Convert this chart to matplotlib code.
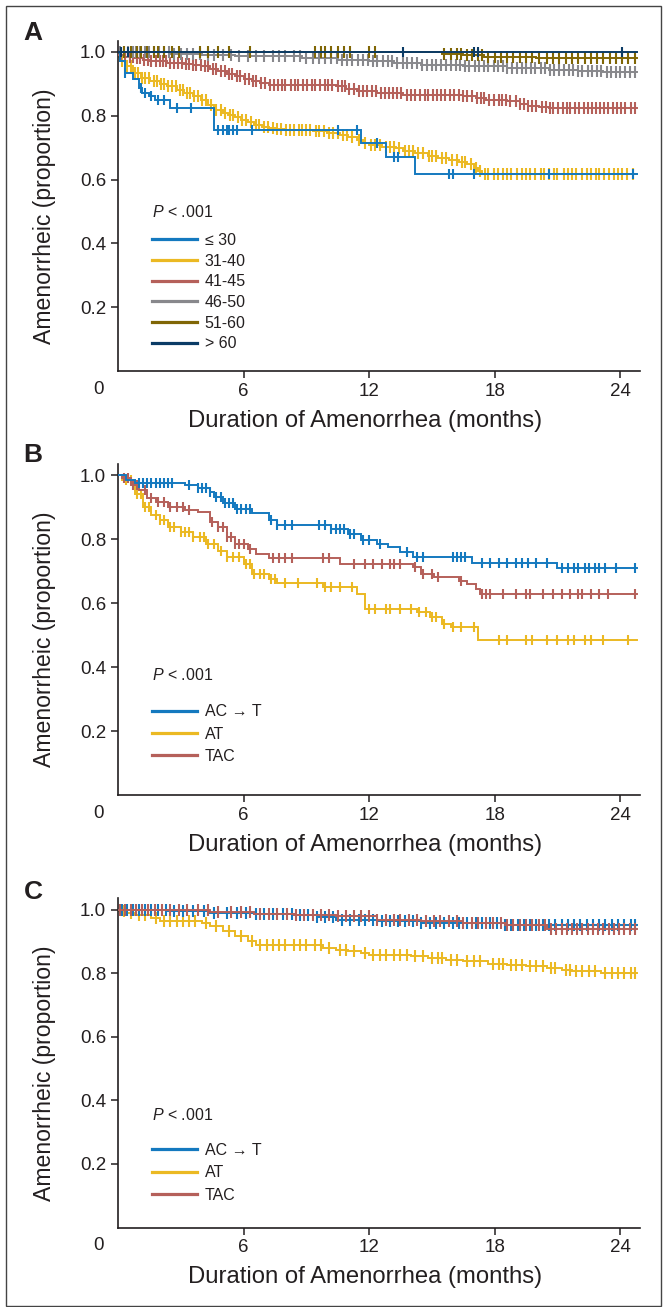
import numpy as np
import matplotlib
matplotlib.use("Agg")
import matplotlib.pyplot as plt
from matplotlib.transforms import ScaledTranslation
from matplotlib.lines import Line2D
from matplotlib.patches import Rectangle

plt.rcParams['font.family'] = ['Liberation Sans', 'DejaVu Sans']
plt.rcParams['mathtext.fontset'] = 'custom'
plt.rcParams['mathtext.it'] = 'Liberation Sans:italic'
plt.rcParams['mathtext.rm'] = 'Liberation Sans'
NARROW = ['Liberation Sans', 'DejaVu Sans']
TXT = '#231F20'

# ---------------- data ----------------
x_ticks = [6, 12, 18, 24]
y_ticks = [0.2, 0.4, 0.6, 0.8, 1.0]
y_ticklabels = ['0.2', '0.4', '0.6', '0.8', '1.0']

# Panel A (age groups)
A_labels = ['\u2264 30', '31-40', '41-45', '46-50', '51-60', '> 60']
A_le30_t = [0, 0.1, 0.34, 0.74, 0.98, 1.15, 1.47, 1.79, 2.5, 4.6, 11.6, 12.8, 14.2, 24.8]
A_le30_s = [1.0, 0.971, 0.935, 0.914, 0.887, 0.872, 0.861, 0.851, 0.825, 0.754, 0.716, 0.672, 0.618, 0.618]
A_le30_c = [0.35, 1.1, 1.3, 1.6, 1.9, 2.2, 2.8, 3.5, 4.8, 5.0, 5.2, 5.3, 5.5, 5.7, 6.4, 10.5, 11.4,
            12.4, 13.2, 13.4, 15.8, 16.0, 17.0, 20.6, 24.6]

A_31_t = [0, 0.1, 0.4, 0.74, 1.1, 1.55, 2.0, 2.36, 2.8, 3.16, 3.6, 3.97, 4.3, 4.6, 5.0, 5.26, 5.6, 5.9,
          6.2, 6.5, 6.9, 7.2, 7.6, 8.0, 9.3, 10.0, 10.6, 11.0, 11.4, 11.7, 12.0, 12.6, 13.3, 13.6, 14.2,
          14.8, 15.3, 15.8, 16.3, 16.7, 17.0, 17.2, 17.4, 19.0, 24.8]
A_31_s = [0.985, 0.971, 0.955, 0.935, 0.92, 0.908, 0.90, 0.892, 0.882, 0.872, 0.862, 0.851, 0.835, 0.819,
          0.81, 0.803, 0.795, 0.788, 0.78, 0.772, 0.766, 0.762, 0.758, 0.755, 0.752, 0.746, 0.74, 0.733,
          0.725, 0.716, 0.709, 0.703, 0.699, 0.69, 0.682, 0.675, 0.667, 0.66, 0.654, 0.648, 0.636, 0.626,
          0.618, 0.616, 0.616]
A_31_c = [0.2, 0.45, 0.6, 0.8, 0.95, 1.15, 1.3, 1.5, 1.7, 1.85, 2.05, 2.2, 2.4, 2.6, 2.75, 2.95, 3.1, 3.3,
          3.45, 3.65, 3.8, 4.0, 4.2, 4.45, 4.7, 4.9, 5.1, 5.35, 5.5, 5.75, 5.95, 6.1, 6.35, 6.6, 6.75, 7.0,
          7.15, 7.4, 7.6, 7.8, 8.05, 8.2, 8.4, 8.65, 8.8, 9.0, 9.2, 9.45, 9.6, 9.85, 10.1, 10.3, 10.5,
          10.75, 10.95, 11.2, 11.5, 11.8, 12.1, 12.3, 12.5, 12.8, 13.0, 13.2, 13.45, 13.7, 13.9, 14.1,
          14.35, 14.6, 14.85, 15.0, 15.2, 15.5, 15.7, 15.95, 16.2, 16.45, 16.6, 16.85, 17.1, 17.3, 17.55,
          17.7, 17.95, 18.15, 18.4, 18.6, 18.8, 19.05, 19.3, 19.5, 19.7, 19.95, 20.2, 20.35, 20.6, 20.85,
          21.0, 21.3, 21.5, 21.7, 21.9, 22.2, 22.4, 22.6, 22.85, 23.0, 23.25, 23.45, 23.7, 23.9, 24.1,
          24.35, 24.6]

A_41_t = [0, 0.3, 0.74, 1.2, 1.55, 2.36, 3.16, 3.6, 3.97, 4.4, 4.77, 5.2, 5.6, 6.0, 6.4, 6.8, 7.2, 9.8,
          10.4, 10.9, 11.4, 12.4, 13.6, 15.0, 16.5, 17.1, 17.6, 18.6, 19.2, 19.6, 20.1, 20.6, 24.8]
A_41_s = [0.99, 0.985, 0.982, 0.975, 0.971, 0.966, 0.961, 0.958, 0.955, 0.947, 0.94, 0.932, 0.924, 0.916,
          0.908, 0.902, 0.898, 0.895, 0.892, 0.885, 0.877, 0.872, 0.866, 0.864, 0.861, 0.855, 0.85, 0.845,
          0.838, 0.83, 0.827, 0.824, 0.824]
A_41_c = [0.15, 0.35, 0.55, 0.7, 0.9, 1.05, 1.25, 1.45, 1.6, 1.8, 2.0, 2.15, 2.3, 2.5, 2.7, 2.85, 3.05,
          3.25, 3.4, 3.6, 3.75, 3.95, 4.15, 4.3, 4.55, 4.7, 4.9, 5.1, 5.3, 5.45, 5.7, 5.85, 6.05, 6.25,
          6.45, 6.6, 6.85, 7.05, 7.25, 7.45, 7.65, 7.85, 8.0, 8.25, 8.45, 8.6, 8.85, 9.05, 9.25, 9.4, 9.65,
          9.9, 10.05, 10.25, 10.5, 10.7, 10.85, 11.05, 11.3, 11.5, 11.7, 11.9, 12.15, 12.35, 12.55, 12.75,
          12.95, 13.15, 13.35, 13.55, 13.8, 14.0, 14.2, 14.45, 14.65, 14.8, 15.05, 15.25, 15.45, 15.65,
          15.85, 16.05, 16.3, 16.5, 16.7, 16.9, 17.15, 17.35, 17.5, 17.75, 17.95, 18.2, 18.35, 18.55,
          18.75, 19.0, 19.2, 19.4, 19.6, 19.8, 20.0, 20.25, 20.45, 20.65, 20.8, 21.05, 21.25, 21.45, 21.6,
          21.85, 22.05, 22.25, 22.45, 22.65, 22.85, 23.05, 23.25, 23.4, 23.65, 23.85, 24.05, 24.25, 24.5,
          24.7]

A_46_t = [0, 2.5, 4.0, 5.6, 8.8, 10.5, 12.0, 13.2, 14.5, 16.5, 18.6, 20.6, 22.0, 23.2, 24.8]
A_46_s = [1.0, 0.995, 0.99, 0.987, 0.982, 0.976, 0.971, 0.966, 0.96, 0.955, 0.95, 0.945, 0.94, 0.937, 0.937]
A_46_c = [0.1, 0.3, 0.5, 0.7, 0.85, 1.05, 1.3, 1.5, 1.7, 1.95, 2.2, 2.45, 2.7, 3.0, 3.3, 3.6, 3.9, 4.3,
          4.6, 5.0, 5.4, 5.8, 6.2, 6.6, 7.0, 7.4, 7.7, 8.0, 8.4, 8.7, 9.0, 9.3, 9.6, 9.9, 10.2, 10.45,
          10.7, 10.95, 11.2, 11.45, 11.7, 11.95, 12.2, 12.4, 12.65, 12.9, 13.1, 13.35, 13.6, 13.8, 14.05,
          14.3, 14.55, 14.75, 15.0, 15.2, 15.45, 15.7, 15.9, 16.15, 16.35, 16.6, 16.8, 17.05, 17.25, 17.5,
          17.7, 17.95, 18.15, 18.4, 18.6, 18.85, 19.05, 19.3, 19.5, 19.75, 19.95, 20.2, 20.4, 20.65, 20.85,
          21.1, 21.3, 21.55, 21.75, 22.0, 22.2, 22.45, 22.65, 22.9, 23.1, 23.35, 23.55, 23.8, 24.0, 24.25,
          24.45, 24.7]

A_51_t = [0, 15.5, 16.5, 17.5, 20.0, 24.8]
A_51_s = [1.0, 0.995, 0.99, 0.985, 0.982, 0.982]
A_51_c = [0.3, 0.6, 0.9, 1.1, 1.4, 1.7, 1.9, 2.2, 2.6, 2.9, 3.9, 4.3, 4.8, 5.3, 6.3, 9.4, 9.7, 9.9, 10.2,
          10.5, 10.8, 11.1, 12.0, 12.3, 15.6, 15.9, 16.2, 16.4, 16.7, 16.9, 17.2, 17.4, 17.7, 18.0, 18.3,
          18.6, 18.9, 19.2, 19.5, 19.8, 20.1, 20.5, 20.8, 21.1, 21.4, 21.7, 22.0, 22.3, 22.6, 22.9, 23.2,
          23.5, 23.8, 24.1, 24.4, 24.7]

A_60_t = [0, 24.8]
A_60_s = [1.0, 1.0]
A_60_c = [0.15, 0.5, 13.6, 17.0, 17.2, 24.1]

# Panels B and C (regimens)
BC_labels = ['AC \u2192 T', 'AT', 'TAC']

B_act_t = [0, 0.4, 0.8, 3.2, 3.8, 4.4, 4.6, 5.0, 5.6, 6.4, 7.2, 7.6, 10.2, 11.0, 11.6, 12.4, 12.9, 13.5,
           14.1, 16.9, 21.0, 24.8]
B_act_s = [1.0, 0.984, 0.974, 0.969, 0.958, 0.948, 0.932, 0.911, 0.895, 0.88, 0.859, 0.843, 0.832, 0.817,
           0.796, 0.785, 0.775, 0.759, 0.743, 0.725, 0.71, 0.71]
B_act_c = [1.0, 1.2, 1.4, 1.6, 1.8, 2.0, 2.2, 2.4, 2.6, 3.4, 3.8, 4.0, 4.2, 4.4, 4.7, 4.9, 5.1, 5.3, 5.5,
           5.7, 5.9, 6.1, 6.3, 7.3, 7.6, 8.0, 8.3, 9.6, 9.9, 10.2, 10.4, 10.6, 10.8, 11.1, 11.3, 11.7, 12.0,
           12.5, 13.8, 14.3, 14.6, 16.0, 16.2, 16.4, 16.6, 17.4, 17.8, 18.2, 18.6, 19.0, 19.3, 19.6, 20.0,
           20.5, 21.2, 21.5, 21.8, 22.0, 22.3, 22.5, 22.8, 23.0, 23.3, 23.8, 24.7]

B_at_t = [0, 0.2, 0.8, 1.2, 1.6, 2.0, 2.4, 3.0, 3.6, 4.2, 4.8, 5.2, 6.0, 6.4, 7.2, 7.6, 9.8, 11.4, 11.8,
          14.3, 14.9, 15.5, 15.9, 17.2, 24.8]
B_at_s = [1.0, 0.984, 0.942, 0.90, 0.874, 0.859, 0.838, 0.822, 0.806, 0.785, 0.764, 0.743, 0.723, 0.691,
          0.675, 0.662, 0.649, 0.628, 0.58, 0.571, 0.555, 0.534, 0.524, 0.484, 0.484]
B_at_c = [0.4, 0.6, 0.9, 1.1, 1.3, 1.5, 1.8, 2.0, 2.2, 2.5, 2.7, 3.0, 3.2, 3.4, 3.6, 3.9, 4.1, 4.3, 4.6,
          4.9, 5.2, 5.5, 5.8, 6.1, 6.3, 6.5, 6.8, 7.0, 7.3, 7.5, 8.0, 8.6, 9.5, 9.9, 10.2, 10.6, 11.2,
          12.0, 12.3, 12.8, 13.0, 13.5, 14.0, 14.4, 14.7, 15.0, 15.2, 15.6, 16.0, 16.4, 17.0, 18.2, 18.6,
          19.5, 19.8, 20.5, 21.0, 21.5, 21.8, 22.3, 22.6, 23.2, 24.4]

B_tac_t = [0, 0.2, 0.6, 1.0, 1.4, 1.8, 2.4, 3.2, 3.8, 4.4, 4.8, 5.2, 5.6, 6.2, 6.6, 7.2, 10.6, 14.1,
           14.5, 15.1, 16.3, 16.7, 17.1, 17.3, 24.8]
B_tac_s = [1.0, 0.99, 0.969, 0.953, 0.927, 0.916, 0.90, 0.89, 0.885, 0.853, 0.838, 0.806, 0.785, 0.77,
           0.754, 0.74, 0.723, 0.712, 0.691, 0.68, 0.67, 0.66, 0.644, 0.628, 0.628]
B_tac_c = [0.3, 0.5, 0.7, 0.9, 1.3, 1.6, 1.9, 2.2, 2.5, 2.8, 3.1, 3.4, 4.5, 4.8, 5.0, 5.2, 5.4, 5.6, 5.8,
           6.0, 6.3, 7.4, 7.7, 8.0, 8.3, 9.8, 10.1, 11.3, 11.8, 12.2, 12.6, 13.0, 13.2, 13.5, 14.2, 14.6,
           15.0, 15.3, 16.4, 17.4, 17.6, 17.8, 18.4, 19.0, 19.5, 19.7, 20.3, 20.8, 21.2, 21.6, 22.0, 22.2,
           22.6, 23.0, 23.4, 24.7]

C_act_t = [0, 1.5, 2.4, 4.4, 6.5, 8.4, 9.5, 10.4, 12.4, 14.5, 16.5, 18.5, 24.8]
C_act_s = [1.0, 0.997, 0.995, 0.99, 0.987, 0.984, 0.975, 0.968, 0.963, 0.958, 0.956, 0.95, 0.95]
C_act_c = [0.2, 0.45, 0.7, 1.0, 1.3, 1.6, 1.9, 2.3, 2.7, 3.1, 3.6, 4.1, 4.6, 5.2, 5.7, 6.1, 6.6, 7.0,
           7.4, 7.9, 8.3, 8.7, 9.1, 9.5, 9.9, 10.3, 10.7, 11.1, 11.5, 11.8, 12.2, 12.6, 13.0, 13.4, 13.7,
           14.1, 14.5, 14.9, 15.2, 15.6, 16.0, 16.3, 16.7, 17.1, 17.4, 17.8, 18.1, 18.5, 18.8, 19.1, 19.4,
           19.7, 20.0, 20.3, 20.6, 20.9, 21.2, 21.5, 21.8, 22.1, 22.4, 22.7, 23.0, 23.3, 23.6, 23.9, 24.2,
           24.5, 24.7]

C_at_t = [0, 0.4, 0.8, 1.6, 2.0, 4.0, 4.4, 5.0, 5.6, 6.2, 6.6, 9.8, 10.4, 11.0, 11.6, 12.0, 14.0, 14.8,
          15.7, 16.5, 17.7, 18.6, 19.5, 20.5, 21.2, 21.7, 23.1, 24.8]
C_at_s = [0.995, 0.99, 0.984, 0.974, 0.963, 0.958, 0.947, 0.932, 0.916, 0.90, 0.887, 0.879, 0.874, 0.868,
          0.863, 0.858, 0.853, 0.847, 0.842, 0.837, 0.83, 0.825, 0.821, 0.816, 0.811, 0.806, 0.80, 0.80]
C_at_c = [0.3, 0.6, 1.0, 1.3, 1.8, 2.2, 2.5, 2.8, 3.1, 3.4, 3.7, 4.2, 4.7, 5.3, 5.9, 6.4, 6.8, 7.1, 7.4,
          7.7, 8.0, 8.4, 8.7, 9.0, 9.4, 9.7, 10.1, 10.6, 10.9, 11.3, 11.8, 12.2, 12.5, 12.8, 13.2, 13.5,
          13.8, 14.2, 14.6, 15.0, 15.3, 15.5, 15.9, 16.2, 16.7, 17.0, 17.3, 17.9, 18.2, 18.4, 18.8, 19.0,
          19.3, 19.7, 20.0, 20.3, 20.7, 20.9, 21.4, 21.6, 21.9, 22.2, 22.5, 22.8, 23.3, 23.6, 23.9, 24.2,
          24.5, 24.7]

C_tac_t = [0, 2.0, 4.4, 6.5, 8.4, 10.4, 12.4, 14.5, 16.5, 18.5, 20.5, 24.8]
C_tac_s = [1.0, 0.997, 0.993, 0.987, 0.984, 0.979, 0.968, 0.963, 0.956, 0.95, 0.94, 0.94]
C_tac_c = [0.1, 0.35, 0.6, 0.85, 1.15, 1.45, 1.75, 2.1, 2.5, 2.9, 3.3, 3.8, 4.3, 4.8, 5.4, 5.9, 6.3,
           6.8, 7.2, 7.6, 8.1, 8.5, 8.9, 9.3, 9.7, 10.1, 10.5, 10.9, 11.3, 11.6, 12.0, 12.4, 12.8, 13.2,
           13.5, 13.9, 14.3, 14.7, 15.1, 15.4, 15.8, 16.2, 16.5, 16.9, 17.2, 17.6, 17.9, 18.3, 18.6, 18.9,
           19.2, 19.5, 19.8, 20.1, 20.4, 20.7, 20.95, 21.2, 21.45, 21.7, 21.95, 22.2, 22.45, 22.7, 22.95,
           23.2, 23.45, 23.7, 23.95, 24.2, 24.45, 24.7]

# colours
C_BLUE = '#1479BF'
C_YEL = '#EBB923'
C_RED = '#B5605A'
C_GRAY = '#88888C'
C_OLIVE = '#806605'
C_NAVY = '#0B3B66'

# ---------------- figure ----------------
W, H = 663, 1307
fig = plt.figure(figsize=(W / 100, H / 100), dpi=100)

def frac_rect(left_px, bottom_px, right_px, top_px):
    return [left_px / W, 1 - bottom_px / H, (right_px - left_px) / W, (bottom_px - top_px) / H]

YTOP = 1.035
XMAX = 24.95
TICK_FS = 13.5

def setup_axes(ax):
    ax.set_xlim(0, XMAX)
    ax.set_ylim(0, YTOP)
    for s in ['top', 'right']:
        ax.spines[s].set_visible(False)
    for s in ['left', 'bottom']:
        ax.spines[s].set_linewidth(1.2)
        ax.spines[s].set_color(TXT)
    ax.set_xticks(x_ticks)
    ax.set_xticklabels([str(v) for v in x_ticks], family=NARROW, fontsize=TICK_FS, color=TXT)
    ax.set_yticks(y_ticks)
    ax.set_yticklabels(y_ticklabels, family=NARROW, fontsize=TICK_FS, color=TXT)
    ax.tick_params(direction='out', length=5, width=1.1, color=TXT, pad=3.5)
    ax.set_xlabel('Duration of Amenorrhea (months)', family=NARROW, fontsize=17.2, color=TXT)
    ax.xaxis.set_label_coords(0.473, -0.118)
    ax.set_ylabel('Amenorrheic (proportion)', family=NARROW, fontsize=16.6, color=TXT)
    ax.yaxis.set_label_coords(-0.118, 0.47)
    off = ScaledTranslation(-19 / 100, -9.5 / 100, fig.dpi_scale_trans)
    ax.text(0, 0, '0', transform=ax.transData + off, ha='center', va='top',
            family=NARROW, fontsize=TICK_FS, color=TXT)

def draw_curve(ax, t, s, c, color, z, ms=7):
    t = np.asarray(t); s = np.asarray(s); c = np.asarray(c)
    ax.step(t, s, where='post', color=color, lw=1.4, zorder=z, solid_joinstyle='miter')
    idx = np.searchsorted(t, c, side='right') - 1
    ax.plot(c, s[idx], ls='none', marker='|', ms=ms, mew=1.5, color=color, zorder=z)

def add_legend(ax, labels, colors, x0, y_title, y0, spacing):
    ax.text(x0, y_title, '$P$ < .001', transform=ax.transAxes, fontsize=11.5, color=TXT,
            ha='left', va='center')
    handles = [Line2D([], [], color=c, lw=2.3) for c in colors]
    ax.legend(handles, labels, loc='upper left', bbox_to_anchor=(x0, y0), frameon=False,
              fontsize=11.5, handlelength=2.85, handletextpad=0.45, labelspacing=spacing,
              borderpad=0, borderaxespad=0, labelcolor=TXT)

# Panel A
axA = fig.add_axes(frac_rect(118, 371, 640, 371 - YTOP * 319))
setup_axes(axA)
draw_curve(axA, A_31_t, A_31_s, A_31_c, C_YEL, 2, ms=8)
draw_curve(axA, A_41_t, A_41_s, A_41_c, C_RED, 3, ms=8)
draw_curve(axA, A_46_t, A_46_s, A_46_c, C_GRAY, 4, ms=8)
draw_curve(axA, A_51_t, A_51_s, A_51_c, C_OLIVE, 5, ms=8)
draw_curve(axA, A_le30_t, A_le30_s, A_le30_c, C_BLUE, 6)
draw_curve(axA, A_60_t, A_60_s, A_60_c, C_NAVY, 7)
add_legend(axA, A_labels, [C_BLUE, C_YEL, C_RED, C_GRAY, C_OLIVE, C_NAVY],
           0.065, 0.483, 0.418, 0.355)

# Panel B
axB = fig.add_axes(frac_rect(118, 795, 640, 795 - YTOP * 320))
setup_axes(axB)
draw_curve(axB, B_at_t, B_at_s, B_at_c, C_YEL, 2)
draw_curve(axB, B_tac_t, B_tac_s, B_tac_c, C_RED, 3)
draw_curve(axB, B_act_t, B_act_s, B_act_c, C_BLUE, 4)
add_legend(axB, BC_labels, [C_BLUE, C_YEL, C_RED], 0.065, 0.3625, 0.274, 0.46)

# Panel C
axC = fig.add_axes(frac_rect(118, 1227.5, 640, 1227.5 - YTOP * 318))
setup_axes(axC)
draw_curve(axC, C_at_t, C_at_s, C_at_c, C_YEL, 2, ms=8)
draw_curve(axC, C_act_t, C_act_s, C_act_c, C_BLUE, 3, ms=8)
draw_curve(axC, C_tac_t, C_tac_s, C_tac_c, C_RED, 4, ms=8)
add_legend(axC, BC_labels, [C_BLUE, C_YEL, C_RED], 0.065, 0.343, 0.257, 0.47)

# panel letters
for letter, ypx in [('A', 33), ('B', 455), ('C', 892)]:
    fig.text(33 / W, 1 - ypx / H, letter, fontsize=19, fontweight='bold', color=TXT,
             ha='center', va='center')

# outer frame
fig.add_artist(Rectangle((5.5 / W, 1.5 / H), (661 - 5.5) / W, (1301.5 - 1.5) / H,
                         transform=fig.transFigure, fill=False, lw=1.0, ec='#444444'))

fig.savefig('out.png', dpi=100)
